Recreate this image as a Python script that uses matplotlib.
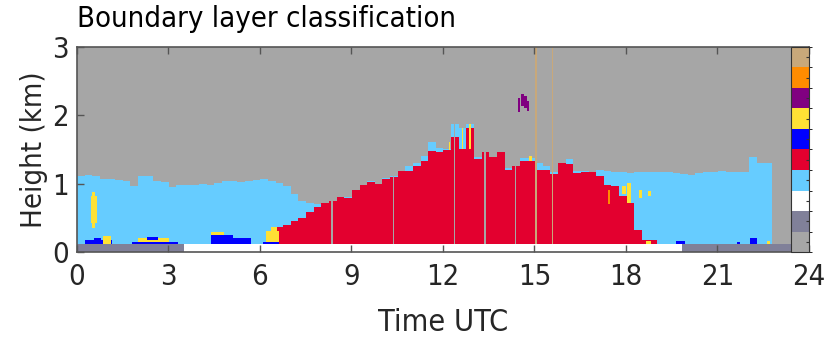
import numpy as np
import matplotlib
matplotlib.use('Agg')
import matplotlib.pyplot as plt
from matplotlib.colors import ListedColormap, BoundaryNorm
from matplotlib.cm import ScalarMappable

# Class colours, bottom to top of the colour bar.
class_colors = ['#a6a6a6',  # clear
                '#808099',  # night
                '#ffffff',  # day
                '#66ccff',  # residual / stable layer
                '#e3002f',  # convective mixing
                '#0000ff',  # turbulence near surface
                '#ffe135',  # wind shear
                '#800080',  # cloud driven
                '#ff8c00',  # intermittent
                '#c8a87a']  # no data

# Top of the boundary layer (km) for every 15 min from 00 UTC.
bl_top = [1.10, 1.12, 1.10, 1.07, 1.07, 1.05, 1.04, 0.96,
          1.10, 1.10, 1.04, 1.02, 0.94, 0.97, 0.98, 0.98,
          0.99, 0.98, 1.00, 1.03, 1.03, 1.02, 1.04, 1.05,
          1.06, 1.03, 1.00, 0.96, 0.85, 0.74, 0.71, 0.70,
          0.72, 0.74, 0.80, 0.80, 0.91, 0.98, 1.04, 0.99,
          1.08, 1.10, 1.18, 1.25, 1.30, 1.40, 1.60, 1.52,
          1.50, 1.86, 1.80, 1.86, 1.38, 1.46, 1.38, 1.45,
          1.22, 1.25, 1.37, 1.37, 1.30, 1.25, 1.17, 1.30,
          1.35, 1.18, 1.18, 1.17, 1.20, 1.18, 1.16, 1.16,
          1.15, 1.16, 1.16, 1.17, 1.17, 1.17, 1.15, 1.13,
          1.12, 1.15, 1.16, 1.17, 1.18, 1.17, 1.16, 1.17,
          1.38, 1.30, 1.30, 0.00, 0.00, 0.00, 0.00, 0.00]

# Top of the convective (red) layer (km), same 15 min steps.
mix_top = [0.00] * 26 + [
          0.36, 0.40, 0.45, 0.50, 0.58, 0.66,
          0.72, 0.74, 0.80, 0.79, 0.91, 0.97, 1.02, 0.99,
          1.07, 1.09, 1.18, 1.18, 1.25, 1.33, 1.47, 1.45,
          1.48, 1.68, 1.50, 1.80, 1.36, 1.46, 1.38, 1.45,
          1.20, 1.25, 1.33, 1.32, 1.20, 1.19, 1.13, 1.30,
          1.28, 1.15, 1.16, 1.16, 1.10, 0.98, 0.96, 0.82,
          0.72, 0.32, 0.18, 0.18] + [0.00] * 20

# Smaller patches: start, end (UTC), bottom, top (km), class.
patches = [(0.45, 0.65, 0.42, 0.82, 6), (0.50, 0.60, 0.82, 0.88, 6),
           (0.50, 0.60, 0.35, 0.42, 6),
           (0.25, 1.15, 0.12, 0.17, 5), (0.55, 0.80, 0.17, 0.21, 5),
           (0.85, 1.10, 0.12, 0.24, 6),
           (1.80, 3.30, 0.12, 0.14, 5), (2.00, 3.00, 0.14, 0.20, 6),
           (2.30, 2.65, 0.17, 0.22, 5),
           (4.40, 5.10, 0.12, 0.25, 5), (4.40, 4.80, 0.25, 0.29, 6),
           (4.80, 4.95, 0.12, 0.20, 5), (5.10, 5.70, 0.12, 0.21, 5),
           (6.20, 6.60, 0.12, 0.30, 6), (6.35, 6.55, 0.30, 0.37, 6),
           (6.10, 6.60, 0.12, 0.14, 5),
           (12.18, 12.22, 1.48, 1.60, 6), (12.60, 12.65, 1.50, 1.80, 6),
           (12.85, 12.90, 1.50, 1.86, 6), (14.80, 14.90, 1.33, 1.40, 6),
           (14.45, 14.50, 2.04, 2.25, 7), (14.55, 14.65, 2.12, 2.30, 7),
           (14.65, 14.75, 2.09, 2.27, 7), (14.75, 14.80, 2.05, 2.20, 7),
           (17.40, 17.45, 0.70, 0.90, 8),
           (17.86, 17.97, 0.84, 0.96, 6), (18.02, 18.13, 0.72, 1.01, 6),
           (18.40, 18.50, 0.79, 0.90, 6), (18.70, 18.80, 0.82, 0.89, 6),
           (18.62, 18.79, 0.12, 0.16, 6),
           (19.60, 19.90, 0.12, 0.16, 5), (21.60, 21.70, 0.12, 0.15, 5),
           (22.05, 22.25, 0.12, 0.20, 5), (22.60, 22.70, 0.12, 0.16, 6)]

gap_times = [8.35, 10.37, 12.37, 13.36, 14.35]   # clear columns
nodata_times = [15.03, 15.58]                     # no-data columns
day_start, day_end = 3.5, 19.8
base = 0.12  # km, day/night strip below this

# Build the classification grid.
t = np.arange(0, 24, 0.01) + 0.005
h = np.arange(0, 3, 0.005) + 0.0025
T, H = np.meshgrid(t, h)
step = np.minimum((t / 0.25).astype(int), 95)
top_col = np.array(bl_top)[step]
mix_col = np.array(mix_top)[step]

img = np.zeros(T.shape, dtype=int)
img[(H >= base) & (H < top_col)] = 3
img[(H >= base) & (H < mix_col)] = 4
for t0, t1, h0, h1, c in patches:
    img[(T >= t0) & (T < t1) & (H >= h0) & (H < h1)] = c
for tg in gap_times:
    img[(np.abs(T - tg) < 0.02) & (H >= base)] = 0
for tg in nodata_times:
    img[(np.abs(T - tg) < 0.02) & (H >= base)] = 9
day = (T >= day_start) & (T < day_end)
img[(H < base) & day] = 2
img[(H < base) & ~day] = 1

cmap = ListedColormap(class_colors)
norm = BoundaryNorm(np.arange(11) - 0.5, 10)

fig = plt.figure(figsize=(8.34, 3.37), dpi=100)
ax = fig.add_axes([0.0923, 0.252, 0.8777, 0.609])
ax.imshow(img, origin='lower', extent=[0, 24, 0, 3], aspect='auto',
          cmap=cmap, norm=norm, interpolation='nearest')

ax.set_xlim(0, 24)
ax.set_ylim(0, 3)
ax.set_xticks(range(0, 25, 3))
ax.set_yticks(range(0, 4))
font = dict(family='DejaVu Sans', stretch='condensed')
ax.set_xticklabels([str(v) for v in range(0, 25, 3)], **font)
ax.set_yticklabels([str(v) for v in range(0, 4)], **font)
ax.tick_params(direction='in', top=True, length=5, width=1,
               labelsize=21, colors='#555555', labelcolor='#262626')
ax.tick_params(axis='x', pad=8)
ax.tick_params(axis='y', pad=6)
for sp in ax.spines.values():
    sp.set_color('#555555')
    sp.set_linewidth(1.2)
ax.set_xlabel('Time UTC', fontsize=22, color='#262626', labelpad=12, **font)
ax.set_ylabel('Height (km)', fontsize=21, color='#262626', labelpad=3, **font)
ax.set_title('Boundary layer classification', loc='left', fontsize=21,
             pad=14, **font)

# Colour bar drawn inside the right end of the plot.
cax = ax.inset_axes([23.4 / 24, 0, 0.6 / 24, 1])
cb = fig.colorbar(ScalarMappable(norm=norm, cmap=cmap), cax=cax,
                  ticks=range(10))
cb.outline.set_edgecolor('#333333')
cax.tick_params(labelright=False, length=2, direction='in', colors='#333333')

fig.savefig('out.png', dpi=100)
